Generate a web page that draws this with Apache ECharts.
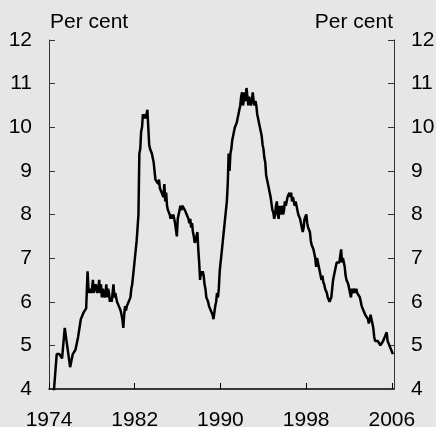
<!DOCTYPE html>
<html>
<head>
<meta charset="utf-8">
<script src="https://cdn.jsdelivr.net/npm/echarts@6/dist/echarts.min.js"></script>
<style>
  html, body { margin: 0; padding: 0; background: #e6e6e6; }
  #main { width: 436px; height: 427px; }
</style>
</head>
<body>
<div id="main"></div>
<script>
// quarterly readings before the monthly series starts (decimal years)
const quarterlyDates = [1974.0, 1974.22, 1974.47, 1974.72, 1974.97, 1975.22, 1975.47, 1975.72,
  1975.97, 1976.22, 1976.47, 1976.72, 1976.97, 1977.22, 1977.47]
const quarterlyRate = [2.4, 2.8, 4.0, 4.8, 4.8, 4.7, 5.4, 4.95, 4.5, 4.8, 4.9, 5.2, 5.6, 5.75, 5.85]

// monthly readings, first one at monthlyStart
const monthlyStart = 1977.6
const monthlyRate = [
  6.7, 6.3, 6.2, 6.3, 6.2, 6.3, 6.5, 6.2, 6.2, 6.4, 6.3, 6.2,
  6.3, 6.5, 6.2, 6.4, 6.1, 6.3, 6.2, 6.1, 6.2, 6.4, 6.1, 6.3,
  6.2, 6.0, 6.1, 6.0, 6.2, 6.4, 6.1, 6.2, 6.1, 6.0, 6.0, 5.9,
  5.9, 5.8, 5.7, 5.6, 5.4, 5.7, 5.9, 5.8, 5.9, 5.9, 6.0, 6.0,
  6.1, 6.3, 6.4, 6.6, 6.8, 7.0, 7.2, 7.4, 7.7, 8.0, 9.4, 9.5,
  9.9, 10.0, 10.3, 10.2, 10.3, 10.2, 10.3, 10.4, 10.0, 9.6, 9.5, 9.5,
  9.4, 9.4, 9.2, 9.0, 8.8, 8.8, 8.8, 8.7, 8.8, 8.6, 8.6, 8.5,
  8.5, 8.4, 8.7, 8.3, 8.5, 8.2, 8.1, 8.1, 8.0, 7.9, 8.0, 7.9,
  8.0, 7.9, 7.8, 7.8, 7.5, 7.9, 8.0, 8.1, 8.2, 8.1, 8.2, 8.2,
  8.2, 8.1, 8.1, 8.0, 8.0, 7.9, 7.8, 7.9, 7.7, 7.8, 7.6, 7.5,
  7.35, 7.4, 7.5, 7.6, 7.2, 6.9, 6.5, 6.7, 6.6, 6.7, 6.6, 6.4,
  6.3, 6.1, 6.1, 6.0, 5.9, 5.9, 5.8, 5.8, 5.7, 5.6, 5.6, 5.9,
  6.0, 6.2, 6.1, 6.3, 6.7, 6.9, 7.1, 7.3, 7.5, 7.7, 7.9, 8.1,
  8.3, 8.7, 9.4, 9.0, 9.4, 9.5, 9.7, 9.8, 9.9, 10.0, 10.0, 10.1,
  10.2, 10.3, 10.4, 10.5, 10.7, 10.8, 10.5, 10.6, 10.8, 10.6, 10.9, 10.7,
  10.5, 10.7, 10.7, 10.5, 10.6, 10.8, 10.6, 10.5, 10.6, 10.5, 10.3, 10.2,
  10.1, 10.0, 9.9, 9.8, 9.6, 9.5, 9.3, 9.2, 8.9, 8.8, 8.7, 8.6,
  8.5, 8.4, 8.25, 8.1, 8.05, 7.9, 8.0, 8.2, 8.3, 8.0, 7.9, 8.2,
  8.0, 8.1, 8.2, 8.0, 8.1, 8.3, 8.2, 8.3, 8.4, 8.4, 8.5, 8.4,
  8.5, 8.3, 8.4, 8.3, 8.2, 8.3, 8.2, 8.1, 8.0, 8.0, 7.9, 7.9,
  7.9, 7.6, 7.7, 7.9, 7.9, 8.0, 7.8, 7.7, 7.7, 7.6, 7.4, 7.3,
  7.3, 7.2, 7.1, 7.0, 6.8, 7.0, 7.0, 6.8, 6.7, 6.6, 6.5, 6.6,
  6.45, 6.4, 6.3, 6.3, 6.2, 6.1, 6.1, 6.0, 6.0, 6.1, 6.3, 6.5,
  6.6, 6.6, 6.8, 6.9, 6.9, 6.9, 6.9, 6.9, 7.2, 6.9, 7.0, 7.0,
  6.8, 6.6, 6.5, 6.5, 6.4, 6.3, 6.3, 6.1, 6.3, 6.2, 6.2, 6.3,
  6.2, 6.3, 6.2, 6.2, 6.2, 6.1, 6.0, 5.9, 5.9, 5.8, 5.8, 5.7,
  5.7, 5.7, 5.6, 5.5, 5.6, 5.7, 5.6, 5.5, 5.4, 5.2, 5.1, 5.1,
  5.1, 5.1, 5.1, 5.1, 5.0, 5.0, 5.0, 5.1, 5.1, 5.2, 5.2, 5.3,
  5.1, 5.1, 5.0, 5.0, 4.9, 4.9, 4.8
]

const yearTicks = [1974, 1982, 1990, 1998, 2006]
const rateTicks = { min: 4, max: 12, step: 1 }

const seriesData = quarterlyDates.map((d, i) => [d, quarterlyRate[i]])
  .concat(monthlyRate.map((v, i) => [monthlyStart + i / 12, v]))

const font = 'Liberation Sans, Arial, sans-serif'
const chart = echarts.init(document.getElementById('main'))

const yAxisBase = {
  type: 'value',
  min: rateTicks.min,
  max: rateTicks.max,
  interval: rateTicks.step,
  axisLine: { show: true, lineStyle: { color: '#333', width: 1 } },
  axisTick: { show: true, inside: true, length: 6, lineStyle: { color: '#333' } },
  axisLabel: { color: '#000', fontSize: 21, fontFamily: font, margin: 17 },
  splitLine: { show: false }
}

chart.setOption({
  backgroundColor: '#e6e6e6',
  animation: false,
  grid: { left: 49, right: 42, top: 40, bottom: 38, outerBoundsMode: 'none' },
  xAxis: {
    type: 'value',
    min: 1974,
    max: 2006.2,
    axisLine: { show: true, onZero: false, lineStyle: { color: '#000', width: 1.5 } },
    axisTick: { show: true, inside: true, length: 6, customValues: yearTicks, lineStyle: { color: '#000' } },
    axisLabel: {
      customValues: yearTicks,
      formatter: v => String(v),
      color: '#000', fontSize: 21, fontFamily: font, margin: 21
    },
    splitLine: { show: false }
  },
  yAxis: [
    Object.assign({}, yAxisBase, { position: 'left' }),
    Object.assign({}, yAxisBase, { position: 'right' })
  ],
  graphic: [
    { type: 'text', left: 50, top: 12, style: { text: 'Per cent', fill: '#000', font: '21px ' + font } },
    { type: 'text', right: 43, top: 12, style: { text: 'Per cent', fill: '#000', font: '21px ' + font } }
  ],
  series: [{
    type: 'line',
    data: seriesData,
    showSymbol: false,
    lineStyle: { color: '#000', width: 2.5 },
    clip: true
  }]
})
</script>
</body>
</html>
